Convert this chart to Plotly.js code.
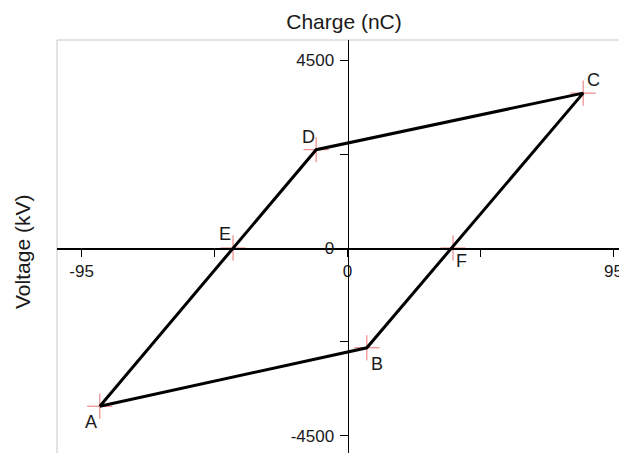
<!DOCTYPE html>
<html>
<head>
<meta charset="utf-8">
<script src="https://cdn.plot.ly/plotly-3.0.1.min.js"></script>
<style>
  html, body { margin: 0; padding: 0; background: #ffffff; }
  #chart { width: 619px; height: 453px; }
</style>
</head>
<body>
<div id="chart"></div>
<script>
// Charge-voltage cycle: corner points of the loop
const cornerLabels = ['A', 'B', 'C', 'D'];
const cornerCharge = [-88.5, 6.9, 84.2, -11.2];
const cornerVoltage = [-3790, -2390, 3710, 2355];

// Zero-voltage crossings of the loop
const crossLabels = ['E', 'F'];
const crossCharge = [-40.9, 37.7];
const crossVoltage = [0, 0];

// Axis ticks
const chargeTickVals = [-95, -47.5, 0, 47.5, 95];
const chargeTickText = ['-95', '', '0', '', '95'];
const voltageTickVals = [-4500, -2250, 0, 2250, 4500];
const voltageTickText = ['-4500', '', '0', '', '4500'];

// Label offsets (pixels) for each named point
const labelShift = {
  A: [-9, -16], B: [10, -16], C: [10, 13], D: [-8, 13], E: [-8, 14], F: [8, -13]
};

const xRange = [-103.8, 97.0];
const yRange = [-4911, 4983];

const allLabels = cornerLabels.concat(crossLabels);
const allCharge = cornerCharge.concat(crossCharge);
const allVoltage = cornerVoltage.concat(crossVoltage);

// Closed loop A -> B -> C -> D -> A
const loopX = cornerCharge.concat([cornerCharge[0]]);
const loopY = cornerVoltage.concat([cornerVoltage[0]]);

const font = 'Liberation Sans, Arial, Helvetica, sans-serif';

const markers = {
  x: allCharge,
  y: allVoltage,
  mode: 'markers',
  type: 'scatter',
  marker: { symbol: 'cross-thin', size: 18, line: { color: 'rgba(225,70,70,0.75)', width: 1 } },
  hoverinfo: 'skip',
  showlegend: false
};

const loop = {
  x: loopX,
  y: loopY,
  mode: 'lines',
  type: 'scatter',
  line: { color: '#000000', width: 3 },
  showlegend: false
};

const annotations = allLabels.map((lab, i) => ({
  x: allCharge[i],
  y: allVoltage[i],
  xref: 'x', yref: 'y',
  text: lab,
  showarrow: false,
  xshift: labelShift[lab][0],
  yshift: labelShift[lab][1],
  font: { family: font, size: 18, color: '#1a1a1a' }
}));

annotations.push({
  text: 'Voltage (kV)',
  xref: 'paper', yref: 'paper',
  x: (22 - 57) / 562, y: (453 - 252) / 413,
  xanchor: 'center', yanchor: 'middle',
  textangle: -90,
  showarrow: false,
  font: { family: font, size: 21, color: '#1a1a1a' }
});

const xZeroPos = (0 - yRange[0]) / (yRange[1] - yRange[0]);
const yZeroPos = (0 - xRange[0]) / (xRange[1] - xRange[0]);

const layout = {
  width: 619,
  height: 453,
  margin: { l: 57, r: 0, t: 40, b: 0 },
  paper_bgcolor: '#ffffff',
  plot_bgcolor: '#ffffff',
  font: { family: font, color: '#1a1a1a' },
  title: {
    text: 'Charge (nC)',
    font: { family: font, size: 21, color: '#1a1a1a' },
    xref: 'container', x: 344 / 619, xanchor: 'center',
    yref: 'container', y: 1 - 22 / 453, yanchor: 'middle'
  },
  xaxis: {
    range: xRange,
    anchor: 'free',
    position: xZeroPos,
    showgrid: false,
    zeroline: false,
    showline: true,
    linecolor: '#000000',
    linewidth: 1.5,
    ticks: 'outside',
    ticklen: 7,
    tickwidth: 1,
    tickcolor: '#000000',
    tickvals: chargeTickVals,
    ticktext: chargeTickText,
    ticklabeloverflow: 'allow',
    tickfont: { family: font, size: 17, color: '#1a1a1a' }
  },
  yaxis: {
    range: yRange,
    anchor: 'free',
    position: yZeroPos,
    showgrid: false,
    zeroline: false,
    showline: true,
    linecolor: '#000000',
    linewidth: 1.5,
    ticks: 'outside',
    ticklen: 8,
    tickwidth: 1,
    tickcolor: '#000000',
    tickvals: voltageTickVals,
    ticktext: voltageTickText,
    ticklabelstandoff: 2,
    tickfont: { family: font, size: 17, color: '#1a1a1a' }
  },
  shapes: [
    { type: 'line', xref: 'paper', yref: 'paper', x0: 0, x1: 0, y0: 0, y1: 1,
      line: { color: '#c8c8c8', width: 1 }, layer: 'below' },
    { type: 'line', xref: 'paper', yref: 'paper', x0: 0, x1: 1, y0: 1, y1: 1,
      line: { color: '#c8c8c8', width: 1 }, layer: 'below' }
  ],
  annotations: annotations
};

Plotly.newPlot('chart', [markers, loop], layout, { displayModeBar: false, staticPlot: true });
</script>
</body>
</html>
